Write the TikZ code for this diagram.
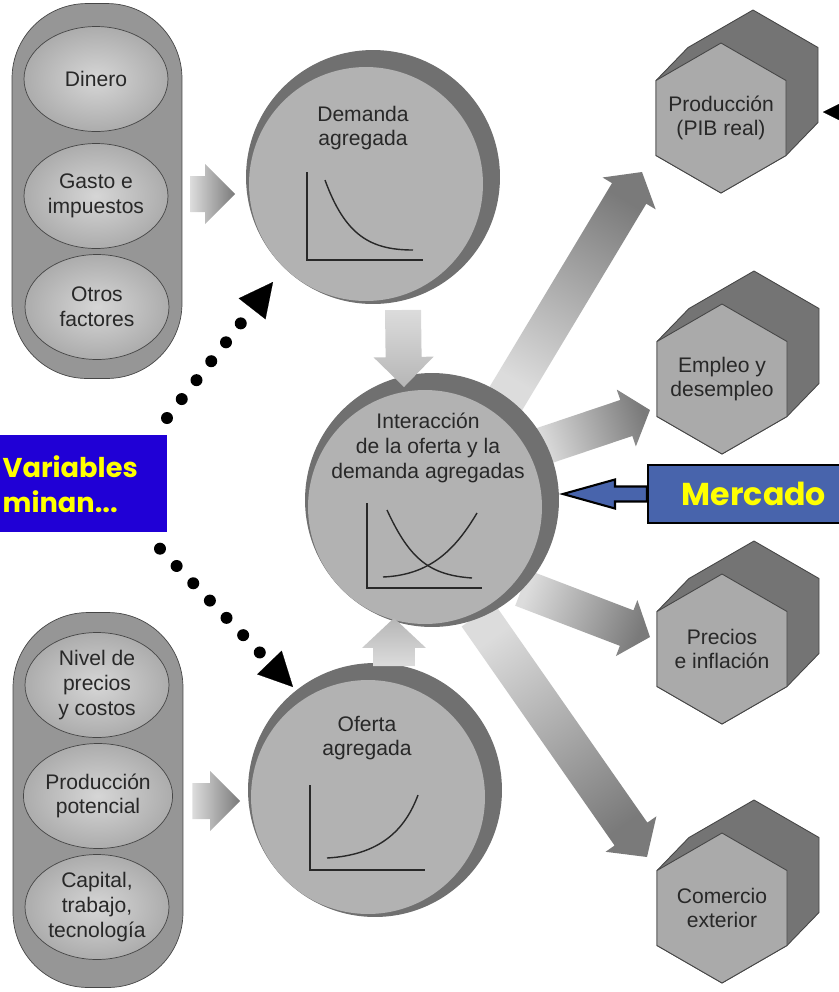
\documentclass[tikz,border=0pt]{standalone}
\usepackage{fontspec}
\setmainfont{Liberation Sans}
\newfontfamily\comic{Poppins}
\usetikzlibrary{calc,shapes.geometric,arrows.meta,backgrounds}

\definecolor{cRim}{RGB}{112,112,112}
\definecolor{cCara}{RGB}{178,178,178}
\definecolor{cHexFrente}{RGB}{170,170,170}
\definecolor{cHexFondo}{RGB}{116,116,116}
\definecolor{cCapsula}{RGB}{150,150,150}
\definecolor{cElipseClaro}{RGB}{214,214,214}
\definecolor{cElipseOscuro}{RGB}{172,172,172}
\definecolor{cBorde}{RGB}{70,70,70}
\definecolor{cTinta}{RGB}{40,40,40}
\definecolor{cFlechaClara}{RGB}{220,220,220}
\definecolor{cFlechaMedia}{RGB}{182,182,182}
\definecolor{cFlechaOscura}{RGB}{122,122,122}
\definecolor{cAzulVar}{RGB}{32,0,214}
\definecolor{cAzulMer}{RGB}{72,100,172}
\definecolor{cAmarillo}{RGB}{255,255,0}

\tikzset{
  texto/.style={align=center,text=cTinta,font=\fontsize{12}{14}\selectfont,inner sep=0pt},
  capsula/.style={draw=cBorde,fill=cCapsula,rounded corners=1.5cm,minimum width=3.4cm,minimum height=7.5cm},
  elipse/.style={ellipse,draw=cBorde,inner color=cElipseClaro,outer color=cElipseOscuro,minimum width=2.88cm,minimum height=2.1cm},
  esferarim/.style={circle,fill=cRim,minimum size=5.08cm,inner sep=0pt,outer sep=0pt},
  hexfondo/.style={fill=cHexFondo,draw=cBorde,line width=0.5pt,line join=round},
  hexfrente/.style={fill=cHexFrente,draw=cBorde,line width=0.5pt,line join=round},
  eje/.style={draw=cTinta,line width=0.8pt},
  flechagris/.style={top color=cFlechaOscura,bottom color=cFlechaClara},
  flechaclara/.style={top color=cFlechaMedia,bottom color=cFlechaClara},
  flechamer/.style={fill=cAzulMer,draw=black,line width=1.2pt,line join=miter},
  punteada/.style={line width=0.24cm,dash pattern=on 0pt off 0.48cm,line cap=round,
    -{Triangle[length=0.68cm,width=0.68cm,line width=0.1pt]}},
  cajavar/.style={fill=cAzulVar,text=cAmarillo,font=\comic\bfseries\fontsize{15.5}{20}\selectfont,
    align=left,text width=3.42cm,inner xsep=0pt,minimum height=1.94cm},
  cajamer/.style={fill=cAzulMer,draw=black,line width=1.2pt,text=cAmarillo,
    font=\comic\bfseries\fontsize{18}{20}\selectfont,minimum width=4.24cm,minimum height=1.16cm}
}

% esfera: borde oscuro y cara clara
\newcommand{\esfera}[3]{%
  \node[esferarim] (#1) at (#2,#3) {};
  \fill[cCara] ($(#1)+(-7,7)$) circle (2.34cm);
}
% hexagono con fondo
\newcommand{\hexa}[4]{%
  \path[hexfondo] (#2,#3) ++(-65,-37.5) -- ++(32,-33) -- ++(65,-37.5) -- ++(65,37.5)
    -- ++(0,75) -- ++(-32,33) -- ++(-65,37.5) -- ++(-65,-37.5) -- cycle;
  \path[hexfrente] (#2,#3) ++(0,-75) -- ++(65,37.5) -- ++(0,75) -- ++(-65,37.5)
    -- ++(-65,-37.5) -- ++(0,-75) -- cycle;
  \node[texto] (#1) at (#2,#3) {#4};
}
% flecha gruesa: inicio, punta, medio ancho, medio ancho de cabeza, largo de cabeza
\newcommand{\flecha}[6][]{%
  \coordinate (fa) at #2;
  \coordinate (fb) at #3;
  \coordinate (fc) at ($(fb)!#6!(fa)$);
  \path[#1] ($(fa)!#4!90:(fb)$) -- ($(fc)!#4!-90:(fa)$) -- ($(fc)!#5!-90:(fa)$) -- (fb)
    -- ($(fc)!#5!90:(fa)$) -- ($(fc)!#4!90:(fa)$) -- ($(fa)!#4!-90:(fb)$) -- cycle;
}

\begin{document}
\begin{tikzpicture}[x=0.02cm,y=-0.02cm]
\useasboundingbox (0,0) rectangle (839,992);
\clip (0,0) rectangle (839,992);

% factores de la demanda
\node[capsula] (capA) at (97,191) {};
\begin{scope}[every node/.style={elipse,texto}]
    \node (dinero) at (96,79) {Dinero};
    \node (gasto) at (96,196) {Gasto e\\impuestos};
    \node (otros) at (97,307) {Otros\\factores};
\end{scope}

% factores de la oferta
\node[capsula] (capB) at (98,800) {};
\begin{scope}[every node/.style={elipse,texto}]
    \node (nivel) at (97,685) {Nivel de\\precios\\y costos};
    \node (prodpot) at (98,796) {Producción\\potencial};
    \node (capital) at (97,907) {Capital,\\trabajo,\\tecnología};
\end{scope}

% esferas
\esfera{inter}{432}{500}
\esfera{dem}{373}{177}
\esfera{ofe}{375}{790}

\node[texto] (demtxt) at (363,128) {Demanda\\agregada};
\node[texto] (intertxt) at (428,448) {Interacción\\de la oferta y la\\demanda agregadas};
\node[texto] (ofetxt) at (367,738) {Oferta\\agregada};

% curvas
\draw[eje] (307,172) -- (307,260) -- (423,260);
\draw[eje] (325,180) .. controls (345,235) and (370,250) .. (413,250);
\draw[eje] (367,503) -- (367,588) -- (482,588);
\draw[eje] (387,510) .. controls (410,560) and (430,575) .. (472,578);
\draw[eje] (383,577) .. controls (430,575) and (455,550) .. (477,513);
\draw[eje] (310,785) -- (310,870) -- (425,870);
\draw[eje] (327,858) .. controls (380,855) and (405,830) .. (418,795);

% resultados
\hexa{prod}{721}{118}{Producción\\(PIB real)}
\hexa{empleo}{722}{379}{Empleo y\\desempleo}
\hexa{precios}{722}{649}{Precios\\e inflación}
\hexa{comercio}{722}{908}{Comercio\\exterior}

% flechas de salida
\begin{scope}[on background layer]
    \flecha[flechagris,shading angle=-31]{($(inter)+(73,-100)$)}{($(prod)+(-79,54)$)}{0.4cm}{0.62cm}{0.5cm}
    \flecha[flechagris,shading angle=-71]{($(inter)+(108,-53)$)}{($(empleo)+(-72,31)$)}{0.38cm}{0.6cm}{0.5cm}
    \flecha[flechagris,shading angle=-111]{($(inter)+(90,88)$)}{($(precios)+(-72,-12)$)}{0.38cm}{0.6cm}{0.5cm}
    \flecha[flechagris,shading angle=-145]{($(inter)+(46,115)$)}{($(comercio)+(-75,-51)$)}{0.4cm}{0.62cm}{0.56cm}
\end{scope}

% flechas de entrada
\flecha[flechagris,shading angle=-90]{($(capA.east)+(8,3)$)}{($(dem.west)+(-11,17)$)}{0.36cm}{0.6cm}{0.6cm}
\flecha[flechagris,shading angle=-90]{($(capB.east)+(9,1)$)}{($(ofe.west)+(-8,11)$)}{0.36cm}{0.6cm}{0.6cm}
\flecha[flechaclara,shading angle=-180]{($(dem.south)+(30,6)$)}{($(inter.north)+(-28,14)$)}{0.36cm}{0.6cm}{0.6cm}
\flecha[flechaclara,shading angle=0]{($(ofe.north)+(19,3)$)}{($(inter.south)+(-38,-9)$)}{0.42cm}{0.64cm}{0.6cm}

% mercado
\node[cajamer] (mercado) at (754,494) {Mercado};
\flecha[flechamer]{(mercado.west)}{($(inter.east)+(4,-6)$)}{0.15cm}{0.29cm}{1.04cm}

% variables
\node[cajavar,anchor=north east] (vars) at (167,435)
    {\hspace*{0.14cm}Variables\\\hspace*{0.14cm}minan...};
\draw[punteada] ($(vars.north east)+(0,-17)$) -- ($(dem)+(-100,105)$);
\draw[punteada] ($(vars.south east)+(-7,16)$) -- ($(ofe)+(-82,-103)$);
\coordinate (fuera) at (905,112);
\draw[punteada] (fuera) -- ($(prod)+(102,-6)$);
\end{tikzpicture}
\end{document}
